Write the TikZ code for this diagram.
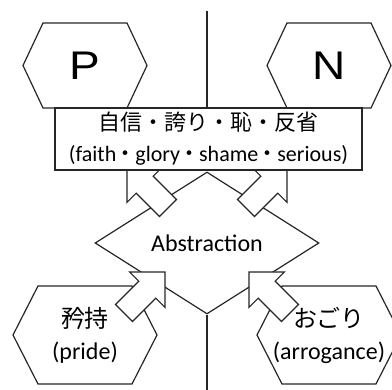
\documentclass[tikz,border=0pt]{standalone}
\usepackage{fontspec}
\setmainfont{Carlito}
\newfontfamily\jpfont{Noto Sans CJK JP}
\newfontfamily\bigfont[FakeStretch=1.15]{Liberation Sans}
\usetikzlibrary{shapes.geometric}
\newcommand{\drawhex}[2]{\draw[ln] ([xshift=#2]#1.north west) -- ([xshift=-#2]#1.north east) -- (#1.east) -- ([xshift=-#2]#1.south east) -- ([xshift=#2]#1.south west) -- (#1.west) -- cycle;}
\newcommand{\jdot}{\hspace{-1.5pt}{\jpfont ・}\hspace{-1.5pt}}
\tikzset{
  ln/.style={line width=1.2pt, draw=black!85},
  hexbox/.style={rectangle, inner sep=0pt, outer sep=0pt, align=center},
  bigletter/.style={font=\bigfont\fontsize{40}{46}\selectfont},
  labeltext/.style={font=\fontsize{24}{28}\selectfont},
  blockarrow/.pic={\draw[ln, fill=white] (0,0) -- (-25,25) -- (-25,12) -- (-58,12) -- (-58,-12) -- (-25,-12) -- (-25,-25) -- cycle;}
}
\begin{document}
\begin{tikzpicture}[x=1pt,y=-1pt]
\useasboundingbox (0,0) rectangle (392,390);
\clip (0,0) rectangle (392,390);
\coordinate (top) at (207,11);
\coordinate (bottom) at (207,392);
% hexagons
\node[hexbox, bigletter, minimum width=124pt, minimum height=85pt] (P) at (85,65.5) {P};
\drawhex{P}{20pt}
\node[hexbox, bigletter, minimum width=124pt, minimum height=85pt] (N) at (329,65.5) {N};
\drawhex{N}{20pt}
\node[hexbox, labeltext, minimum width=144pt, minimum height=98pt] (pride) at (85,335) {{\jpfont 矜持}\\[4pt](pride)};
\drawhex{pride}{25pt}
\node[hexbox, labeltext, minimum width=144pt, minimum height=98pt] (arr) at (329,335) {{\jpfont おごり}\\[4pt](arrogance)};
\drawhex{arr}{25pt}
% diamond
\node[diamond, ln, fill=white, aspect=1.58, inner sep=0pt, minimum width=224pt, minimum height=142pt, labeltext] (abs) at (207,243) {Abstraction};
% lines
\draw[ln] (abs.south) -- (abs.south |- bottom);
% arrows
\pic[rotate=135] (ul) at (127,167) {blockarrow};
\pic[rotate=45] (ur) at (287,167) {blockarrow};
\pic[rotate=45] (ll) at (165,272) {blockarrow};
\pic[rotate=135] (lr) at (249,272) {blockarrow};
% box
\node[rectangle, ln, fill=white, minimum width=307pt, minimum height=62pt, inner sep=0pt, align=center, font=\fontsize{22}{26}\selectfont] (box) at (208.5,139) {{\jpfont 自信・誇り・恥・反省}\\[5pt](faith\jdot glory\jdot shame\jdot serious)};
\draw[ln] (top) -- (top |- box.north);
\end{tikzpicture}
\end{document}
